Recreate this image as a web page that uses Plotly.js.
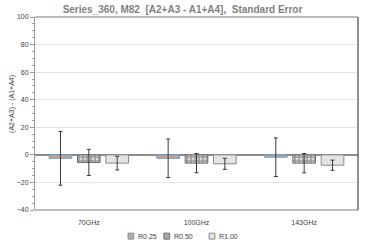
<!DOCTYPE html>
<html><head><meta charset="utf-8">
<script src="https://cdn.plot.ly/plotly-3.0.1.min.js"></script>
<style>html,body{margin:0;padding:0;background:#fff}#c{width:365px;height:245px}</style>
</head><body><div id="c"></div>
<script>
const categories = ["70GHz", "100GHz", "143GHz"];
const seriesNames = ["R0.25", "R0.50", "R1.00"];
const valsR025 = [-2.5, -2.5, -1.7];
const errR025 = [19.5, 14, 14];
const valsR050 = [-5.5, -6, -6];
const errR050 = [9.5, 7, 7];
const valsR100 = [-6, -6.5, -7.5];
const errR100 = [5, 4, 3.7];
const yTitle = "(A2+A3) - (A1+A4)";

const styles = [
  {fill: "#c9a584", line: "#6b9bd0", pattern: null},
  {fill: "#a8a8a8", line: "#6e6e6e", pattern: {shape: ".", fgcolor: "#d8d8d8", bgcolor: "#9a9a9a", size: 4, solidity: 0.4}},
  {fill: "#e4e4e4", line: "#8a8a8a", pattern: null}
];
const vals = [valsR025, valsR050, valsR100];
const errs = [errR025, errR050, errR100];

const traces = seriesNames.map((n, i) => {
  const m = {color: styles[i].fill, line: {color: styles[i].line, width: 1}};
  if (styles[i].pattern) m.pattern = styles[i].pattern;
  return {
    type: "bar", name: n, x: categories, y: vals[i], marker: m, showlegend: false,
    error_y: {type: "data", array: errs[i], visible: true, color: "#3a3a3a", thickness: 1, width: 2}
  };
});

// manual legend (paper coords), laid out below the plot
const legX = [0.288, 0.399, 0.539];
const shapes = [
  {type: "line", xref: "paper", yref: "paper", x0: 0, x1: 1, y0: 1, y1: 1, line: {color: "#a6a6a6", width: 1.5}},
  {type: "line", xref: "paper", yref: "paper", x0: 0, x1: 1, y0: 0, y1: 0, line: {color: "#a6a6a6", width: 1.5}},
  {type: "line", xref: "paper", yref: "paper", x0: 1, x1: 1, y0: 0, y1: 1, line: {color: "#6a6a6a", width: 1.5}}
];
const annotations = [{xref: "paper", yref: "paper", x: -0.071, y: 0.55, xanchor: "center", yanchor: "middle",
  text: yTitle, textangle: -90, showarrow: false, font: {size: 7, color: "#404040"}}];
seriesNames.forEach((n, i) => {
  shapes.push({type: "rect", xref: "paper", yref: "paper", x0: legX[i], x1: legX[i] + 0.018, y0: -0.151, y1: -0.120,
    fillcolor: styles[i].fill, line: {color: styles[i].line, width: 1}});
  annotations.push({xref: "paper", yref: "paper", x: legX[i] + 0.024, y: -0.135, xanchor: "left", yanchor: "middle",
    text: n, showarrow: false, font: {size: 7, color: "#404040"}});
});

const layout = {
  width: 365, height: 245,
  margin: {l: 35, r: 7, t: 17, b: 35},
  paper_bgcolor: "#fff", plot_bgcolor: "#fff",
  font: {family: "Liberation Sans, Arial, sans-serif", size: 7, color: "#404040"},
  title: {text: "<b>Series_360, M82  [A2+A3 - A1+A4],  Standard Error</b>", x: 0.5, xanchor: "center", y: 0.962, yanchor: "middle",
          font: {size: 10, color: "#7f7f7f", family: "Liberation Sans, Arial, sans-serif"}},
  barmode: "group", bargap: 0.21, bargroupgap: 0.2,
  showlegend: false,
  xaxis: {showgrid: false, showline: false, ticks: "", ticklabelstandoff: 7, tickfont: {size: 7, color: "#404040"}, zeroline: false},
  yaxis: {range: [-40, 100], dtick: 20, showgrid: true, gridcolor: "#e3e3e3", gridwidth: 1,
          zeroline: true, zerolinecolor: "#8c8c8c", zerolinewidth: 1.5,
          showline: true, linecolor: "#9a9a9a", linewidth: 1,
          ticks: "outside", ticklen: 4, tickcolor: "#9a9a9a", tickfont: {size: 7, color: "#404040"},
          minor: {dtick: 5, ticks: "outside", ticklen: 2, tickcolor: "#9a9a9a", showgrid: false}},
  shapes: shapes,
  annotations: annotations
};
Plotly.newPlot("c", traces, layout, {staticPlot: true, displayModeBar: false});
</script></body></html>
